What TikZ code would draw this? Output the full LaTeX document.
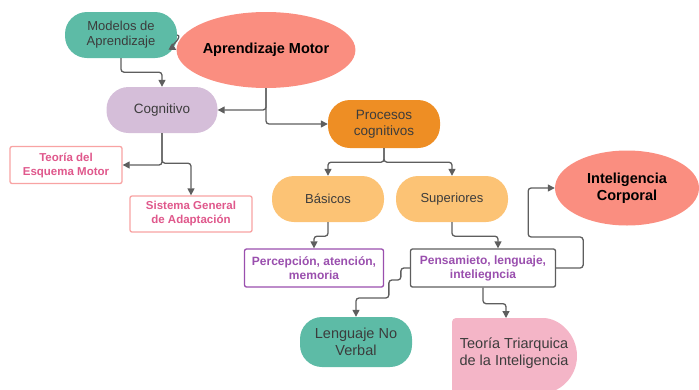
\documentclass[tikz,border=0pt]{standalone}
\usepackage{fontspec}
\setmainfont{Liberation Sans}
\usetikzlibrary{shapes.geometric,arrows.meta}

\definecolor{verde}{HTML}{5DBBA6}
\definecolor{salmon}{HTML}{FA8E80}
\definecolor{lila}{HTML}{D5BED9}
\definecolor{naranja}{HTML}{EE8E24}
\definecolor{durazno}{HTML}{FCC375}
\definecolor{rosaborde}{HTML}{F8A3A3}
\definecolor{rosatexto}{HTML}{E0588C}
\definecolor{morado}{HTML}{9A4FAE}
\definecolor{rosado}{HTML}{F4B5C7}
\definecolor{linea}{HTML}{5E5E5E}
\definecolor{texto}{HTML}{3C3C3C}

\tikzset{
  pill/.style={rectangle, rounded corners=22pt, minimum width=112pt,
    minimum height=46pt, align=center, inner sep=2pt, text=texto,
    font=\fontsize{13.5}{16}\selectfont},
  caja/.style={rectangle, draw, line width=1.3pt, rounded corners=2pt,
    align=center, fill=white, inner sep=2pt,
    font=\bfseries\fontsize{11.5}{14}\selectfont},
  oval/.style={ellipse, align=center, inner sep=0pt,
    font=\bfseries\fontsize{14.5}{17}\selectfont},
  flecha/.style={draw=linea, line width=1.3pt, rounded corners=3pt,
    -{Triangle[length=7pt,width=7pt]}}
}

\begin{document}
\begin{tikzpicture}[x=1pt,y=-1pt]
\useasboundingbox (0,0) rectangle (699,389);

% nodos
\node[pill, fill=verde, font=\fontsize{13}{15}\selectfont] (modelos) at (121,35) {Modelos de\\Aprendizaje};
\node[oval, fill=salmon, minimum width=154pt, minimum height=76pt] (motor) at (266,50) {Aprendizaje Motor};
\node[pill, fill=lila, minimum width=111pt] (cognitivo) at (162,110) {Cognitivo};
\node[pill, fill=naranja, minimum height=48pt] (procesos) at (384,124) {Procesos\\cognitivos};
\node[caja, draw=rosaborde, text=rosatexto, minimum width=112pt, minimum height=37pt] (esquema) at (66,165) {Teoría del\\Esquema Motor};
\node[caja, draw=rosaborde, text=rosatexto, minimum width=122pt, minimum height=36pt] (sistema) at (191,214) {Sistema General\\de Adaptación};
\node[pill, fill=durazno, font=\fontsize{13}{15}\selectfont] (basicos) at (328,199) {Básicos};
\node[pill, fill=durazno, font=\fontsize{13}{15}\selectfont] (superiores) at (452,199) {Superiores};
\node[oval, fill=salmon, minimum width=144pt, minimum height=75pt] (corporal) at (627,188) {Inteligencia\\Corporal};
\node[caja, draw=morado, text=morado, minimum width=139pt, minimum height=38pt,
  font=\bfseries\fontsize{12}{14}\selectfont] (percepcion) at (314,268) {Percepción, atención,\\memoria};
\node[caja, draw=linea, text=morado, minimum width=145pt, minimum height=38pt,
  font=\bfseries\fontsize{12}{14}\selectfont] (pensamiento) at (483,268) {Pensamieto, lenguaje,\\inteliegncia};
\node[pill, fill=verde, minimum height=50pt, font=\fontsize{14.5}{17}\selectfont] (lenguaje) at (356,342) {Lenguaje No\\Verbal};

% forma de la teoria triarquica
\fill[rosado, rounded corners=4pt] (452,394) -- (452,318) -- (539,318)
  [sharp corners] arc[start angle=90, end angle=-90, radius=38pt] -- cycle;
\node[align=center, text=texto, font=\fontsize{14.5}{17}\selectfont] (triarq) at (514,353) {Teoría Triarquica\\de la Inteligencia};
\coordinate (triarqtop) at (506,318);

% conectores
\draw[flecha] (modelos.east) to[out=-10, in=150] (motor.west);
\draw[flecha] (modelos.south) -- ++(0,14) -| (cognitivo.north);
\draw[flecha] (motor.south) |- (cognitivo.east);
\draw[flecha] (motor.south) |- (procesos.west);
\draw[flecha] (cognitivo.south) |- (esquema.east);
\draw[flecha] (cognitivo.south) -- ++(0,30) -| (sistema.north);
\draw[flecha] (procesos.south) -- ++(0,14) -| (basicos.north);
\draw[flecha] (procesos.south) -- ++(0,14) -| (superiores.north);
\draw[flecha] (basicos.south) -- ++(0,14) -| (percepcion.north);
\draw[flecha] (superiores.south) -- ++(0,14) -| ([xshift=15pt]pensamiento.north);
\draw[flecha] (pensamiento.east) -- ++(27,0) |- ++(-55,-31) |- (corporal.west);
\draw[flecha] (pensamiento.west) -- ++(-9,0) -- ++(0,12) -- ++(-12,0)
  -- ++(0,18) -| (lenguaje.north);
\draw[flecha] (pensamiento.south) -- ++(0,16) -| (triarqtop);
\end{tikzpicture}
\end{document}
